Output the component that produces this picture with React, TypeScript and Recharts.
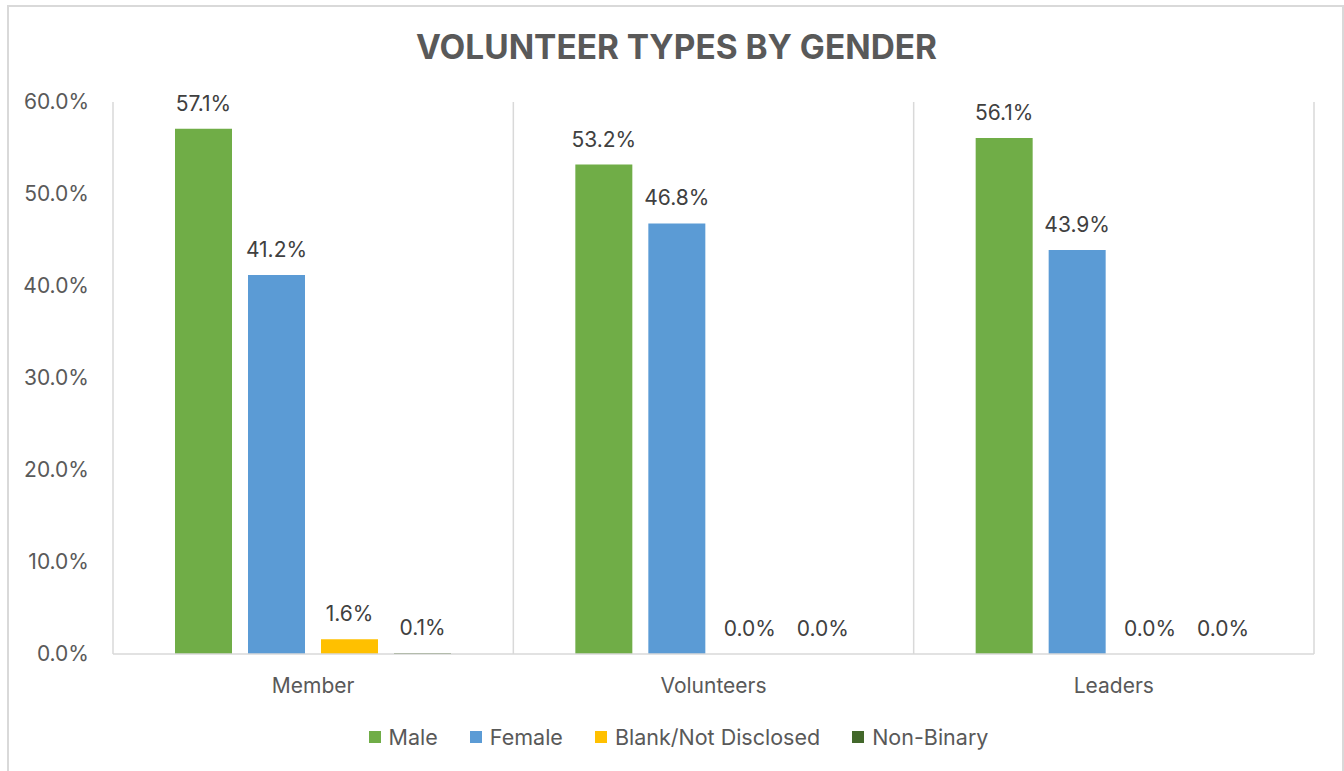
import { BarChart, Bar, XAxis, YAxis, CartesianGrid, Legend, LabelList } from "recharts";

const CATEGORIES = ["Member", "Volunteers", "Leaders"];
const MALE = [57.1, 53.2, 56.1];
const FEMALE = [41.2, 46.8, 43.9];
const BLANK = [1.6, 0.0, 0.0];
const NON_BINARY = [0.1, 0.0, 0.0];
const Y_TICKS = [0, 10, 20, 30, 40, 50, 60];

const SERIES = [
  { key: "male", name: "Male", color: "#70AD47" },
  { key: "female", name: "Female", color: "#5B9BD5" },
  { key: "blank", name: "Blank/Not Disclosed", color: "#FFC000" },
  { key: "nonBinary", name: "Non-Binary", color: "#43682B" },
];

const FONT = "Inter, 'Liberation Sans', sans-serif";
const GRID = "#D9D9D9";
const TEXT = "#595959";

const data = CATEGORIES.map((name, i) => ({
  name,
  male: MALE[i],
  female: FEMALE[i],
  blank: BLANK[i],
  nonBinary: NON_BINARY[i],
}));

const pct = (v: number) => `${Number(v).toFixed(1)}%`;

function LegendContent() {
  return (
    <div
      style={{
        display: "flex",
        justifyContent: "center",
        alignItems: "center",
        gap: 32,
        height: 28,
        fontFamily: FONT,
        fontSize: 21.5,
        color: TEXT,
      }}
    >
      {SERIES.map((s) => (
        <div key={s.key} style={{ display: "flex", alignItems: "center" }}>
          <span style={{ width: 12, height: 12, background: s.color, marginRight: 8 }} />
          <span>{s.name}</span>
        </div>
      ))}
    </div>
  );
}

export default function App() {
  return (
    <div
      style={{
        position: "absolute",
        left: 0,
        top: 0,
        width: 1344,
        height: 771,
        background: "#fff",
        overflow: "hidden",
      }}
    >
      <div
        style={{
          position: "absolute",
          left: 7,
          top: 5,
          width: 1333,
          height: 800,
          border: `2px solid ${GRID}`,
        }}
      />
      <div
        style={{
          position: "absolute",
          left: 0,
          top: 27,
          width: 1353,
          textAlign: "center",
          fontFamily: FONT,
          fontWeight: 700,
          fontSize: 33.4,
          lineHeight: "40px",
          color: TEXT,
        }}
      >
        VOLUNTEER TYPES BY GENDER
      </div>
      <div style={{ position: "absolute", left: 0, top: 0 }}>
        <BarChart
          width={1344}
          height={771}
          data={data}
          margin={{ top: 102, right: 30, bottom: 20, left: 23 }}
          barGap={16}
          barSize={57}
        >
          <CartesianGrid
            horizontal={false}
            stroke={GRID}
            strokeWidth={1.5}
            verticalCoordinatesGenerator={({ offset }: any) =>
              CATEGORIES.map((_, i) => offset.left + (i * offset.width) / CATEGORIES.length).concat(
                offset.left + offset.width
              )
            }
          />
          <XAxis
            dataKey="name"
            height={69}
            tickSize={0}
            tickMargin={24}
            axisLine={{ stroke: GRID, strokeWidth: 1.5 }}
            tick={{ fill: TEXT, fontSize: 21, fontFamily: FONT }}
          />
          <YAxis
            domain={[0, 60]}
            ticks={Y_TICKS}
            width={90}
            tickSize={0}
            tickMargin={24}
            axisLine={false}
            tickLine={false}
            tickFormatter={pct}
            tick={{ fill: TEXT, fontSize: 21, fontFamily: FONT }}
          />
          <Legend
            verticalAlign="bottom"
            content={<LegendContent />}
            wrapperStyle={{ left: 0, width: 1357 }}
          />
          {SERIES.map((s) => (
            <Bar
              key={s.key}
              dataKey={s.key}
              name={s.name}
              fill={s.color}
              minPointSize={(v: number) => (v === 0 ? 0.01 : 0)}
              isAnimationActive={false}
            >
              <LabelList
                dataKey={s.key}
                position="top"
                offset={18}
                formatter={pct}
                style={{ fill: "#404040", fontSize: 21, fontFamily: FONT }}
              />
            </Bar>
          ))}
        </BarChart>
      </div>
    </div>
  );
}
